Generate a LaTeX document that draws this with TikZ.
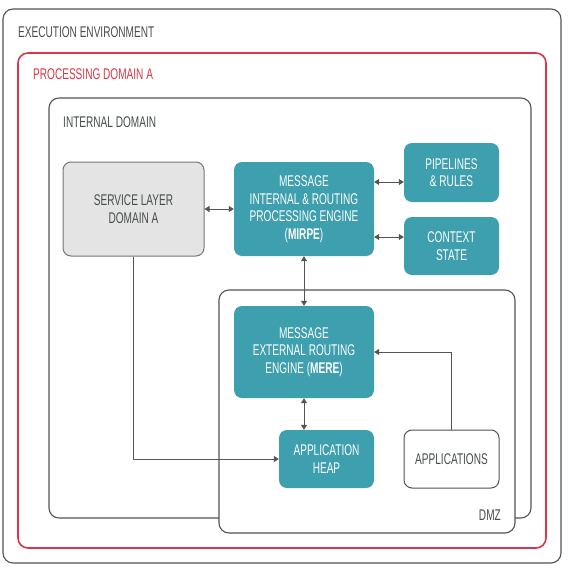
\documentclass[tikz,border=0pt]{standalone}
\usepackage{fontspec}
\setmainfont{Liberation Sans}[FakeStretch=0.65]
\usetikzlibrary{arrows.meta}

\definecolor{tealbox}{HTML}{3E9FAE}
\definecolor{greybox}{HTML}{E4E4E4}
\definecolor{domainred}{HTML}{D9364A}
\definecolor{darkline}{HTML}{505555}
\definecolor{darktext}{HTML}{474C4D}

\tikzset{
  container/.style={draw=darkline, line width=1.1pt, rounded corners=10pt},
  label/.style={anchor=west, text=darktext, font=\fontsize{15.5}{17}\selectfont, inner sep=0pt},
  engine/.style={fill=tealbox, draw=none, rounded corners=8pt, text=white, align=center,
    font=\fontsize{15.5}{17.5}\selectfont},
  service/.style={fill=greybox, draw=darkline!80, line width=1pt, rounded corners=8pt,
    text=darktext, align=center, font=\fontsize{15.5}{17.5}\selectfont},
  external/.style={fill=white, draw=darkline, line width=1pt, rounded corners=8pt,
    text=darktext, align=center, font=\fontsize{15.5}{17.5}\selectfont},
  link/.style={draw=darkline, line width=1pt, arrows={-Triangle[length=5pt,width=6pt]}},
  twoway/.style={link, arrows={Triangle[length=5pt,width=6pt]-Triangle[length=5pt,width=6pt]}}
}

\begin{document}
\begin{tikzpicture}[x=1pt, y=-1pt]
  \useasboundingbox (0,0) rectangle (568,576);

  % Entorno de ejecucion
  \draw[container] (3,9) rectangle (561,563);
  \node[label] (execlbl) at (18,32) {EXECUTION ENVIRONMENT};

  % Dominio de procesamiento
  \draw[container, draw=domainred, line width=1.6pt] (18,53) rectangle (546,548);
  \node[label, text=domainred] (proclbl) at (33,74) {PROCESSING DOMAIN A};

  % Dominio interno
  \draw[container] (49,98) rectangle (531,518);
  \node[label] (intlbl) at (63,122) {INTERNAL DOMAIN};

  % DMZ
  \draw[container, fill=white] (219,290) rectangle (515,533);
  \node[label, anchor=east] (dmzlbl) at (501,515) {DMZ};

  % Bloques
  \node[service, minimum width=141pt, minimum height=94pt] (svc) at (133.5,209) {SERVICE LAYER\\DOMAIN A};
  \node[engine, minimum width=140pt, minimum height=94pt] (mirpe) at (304,209)
    {MESSAGE\\INTERNAL \& ROUTING\\PROCESSING ENGINE\\(\textbf{MIRPE})};
  \node[engine, minimum width=95pt, minimum height=59pt] (pipe) at (451.5,172.5) {PIPELINES\\\& RULES};
  \node[engine, minimum width=95pt, minimum height=58pt] (ctx) at (451.5,246) {CONTEXT\\STATE};
  \node[engine, minimum width=140pt, minimum height=92pt] (mere) at (304,352)
    {MESSAGE\\EXTERNAL ROUTING\\ENGINE (\textbf{MERE})};
  \node[engine, minimum width=95pt, minimum height=58pt] (heap) at (326.5,459) {APPLICATION\\HEAP};
  \node[external, minimum width=95pt, minimum height=58pt] (apps) at (451.5,459) {APPLICATIONS};

  % Conexiones
  \draw[twoway] (svc.east) -- (mirpe.west);
  \draw[twoway] ([yshift=-9.5pt]pipe.west -| mirpe.east) -- ([yshift=-9.5pt]pipe.west);
  \draw[twoway] ([yshift=9pt]ctx.west -| mirpe.east) -- ([yshift=9pt]ctx.west);
  \draw[twoway] (mirpe.south) -- (mere.north);
  \draw[twoway] (mere.south) -- (mere.south |- heap.north);
  \draw[link] (svc.south) |- (heap.west);
  \draw[link] (apps.north) |- (mere.east);
\end{tikzpicture}
\end{document}
